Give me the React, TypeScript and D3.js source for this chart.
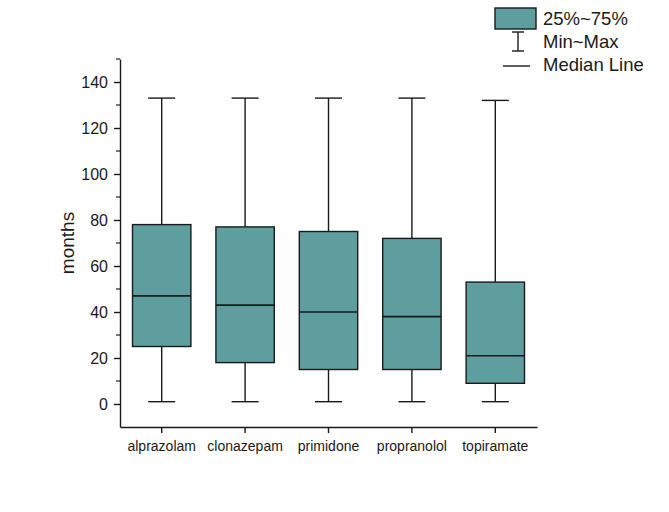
import { useEffect, useRef } from "react"
import * as d3 from "d3"

const drugs = ["alprazolam", "clonazepam", "primidone", "propranolol", "topiramate"]
const minVals = [1, 1, 1, 1, 1]
const q1Vals = [25, 18, 15, 15, 9]
const medianVals = [47, 43, 40, 38, 21]
const q3Vals = [78, 77, 75, 72, 53]
const maxVals = [133, 133, 133, 133, 132]
const yTicks = [0, 20, 40, 60, 80, 100, 120, 140]
const legendLabels = ["25%~75%", "Min~Max", "Median Line"]

export default function App() {
  const svgRef = useRef<SVGSVGElement>(null)

  useEffect(() => {
    document.body.style.margin = "0"
    if (!svgRef.current) return
    const svg = d3.select(svgRef.current)
    svg.selectAll("*").remove()

    const font = "'Liberation Sans', Arial, sans-serif"
    const fill = "#5f9e9e"
    const ink = "#1a1a1a"

    const x = d3.scaleBand<string>().domain(drugs).range([120, 537]).paddingInner(0.3).paddingOuter(0.15)
    const y = d3.scaleLinear().domain([-10, 150]).range([427, 59])

    const g = svg.append("g").style("font-family", font)

    // y axis
    const yAxis = g
      .append("g")
      .attr("transform", "translate(120,0)")
      .call(d3.axisLeft(y).tickValues(yTicks).tickSize(6).tickSizeOuter(0).tickPadding(6))
    yAxis.select(".domain").attr("stroke", ink).attr("stroke-width", 1.4)
    yAxis.selectAll(".tick line").attr("stroke", ink).attr("stroke-width", 1.4)
    yAxis.selectAll(".tick text").style("font-size", "16px").attr("fill", ink).style("font-family", font)

    // minor ticks
    g.append("g")
      .selectAll("line")
      .data(d3.range(-10, 151, 20).filter((v) => v > -10))
      .enter()
      .append("line")
      .attr("x1", 120)
      .attr("x2", 116)
      .attr("y1", (d) => y(d))
      .attr("y2", (d) => y(d))
      .attr("stroke", ink)
      .attr("stroke-width", 1.2)

    // x axis
    const xAxis = g
      .append("g")
      .attr("transform", "translate(0,427)")
      .call(d3.axisBottom(x).tickSize(6).tickSizeOuter(0).tickPadding(8))
    xAxis.select(".domain").attr("stroke", ink).attr("stroke-width", 1.4)
    xAxis.selectAll(".tick line").attr("stroke", ink).attr("stroke-width", 1.4)
    xAxis.selectAll(".tick text").style("font-size", "14px").attr("fill", ink).style("font-family", font)

    // y label
    g.append("text")
      .attr("transform", `translate(74,${(y(150) + y(-10)) / 2}) rotate(-90)`)
      .attr("text-anchor", "middle")
      .style("font-size", "19px")
      .attr("fill", ink)
      .text("months")

    // boxes
    const bw = x.bandwidth()
    const capW = 27
    drugs.forEach((d, i) => {
      const cx = (x(d) as number) + bw / 2
      const bg = g.append("g")
      bg.append("line")
        .attr("x1", cx).attr("x2", cx)
        .attr("y1", y(maxVals[i])).attr("y2", y(q3Vals[i]))
        .attr("stroke", ink).attr("stroke-width", 1.4)
      bg.append("line")
        .attr("x1", cx).attr("x2", cx)
        .attr("y1", y(q1Vals[i])).attr("y2", y(minVals[i]))
        .attr("stroke", ink).attr("stroke-width", 1.4)
      ;[maxVals[i], minVals[i]].forEach((v) => {
        bg.append("line")
          .attr("x1", cx - capW / 2).attr("x2", cx + capW / 2)
          .attr("y1", y(v)).attr("y2", y(v))
          .attr("stroke", ink).attr("stroke-width", 1.4)
      })
      bg.append("rect")
        .attr("x", x(d) as number)
        .attr("width", bw)
        .attr("y", y(q3Vals[i]))
        .attr("height", y(q1Vals[i]) - y(q3Vals[i]))
        .attr("fill", fill)
        .attr("stroke", ink)
        .attr("stroke-width", 1.4)
      bg.append("line")
        .attr("x1", x(d) as number).attr("x2", (x(d) as number) + bw)
        .attr("y1", y(medianVals[i])).attr("y2", y(medianVals[i]))
        .attr("stroke", ink).attr("stroke-width", 1.6)
    })

    // legend
    const lg = g.append("g")
    lg.append("rect").attr("x", 495).attr("y", 8).attr("width", 41).attr("height", 21)
      .attr("fill", fill).attr("stroke", ink).attr("stroke-width", 1.4)
    lg.append("line").attr("x1", 518).attr("x2", 518).attr("y1", 32).attr("y2", 51).attr("stroke", ink).attr("stroke-width", 1.4)
    lg.append("line").attr("x1", 512).attr("x2", 524).attr("y1", 32).attr("y2", 32).attr("stroke", ink).attr("stroke-width", 1.4)
    lg.append("line").attr("x1", 512).attr("x2", 524).attr("y1", 51).attr("y2", 51).attr("stroke", ink).attr("stroke-width", 1.4)
    lg.append("line").attr("x1", 503).attr("x2", 530).attr("y1", 66).attr("y2", 66).attr("stroke", ink).attr("stroke-width", 1.4)
    legendLabels.forEach((t, i) => {
      lg.append("text").attr("x", 543).attr("y", 25 + i * 23)
        .style("font-size", "18.5px").attr("fill", ink).text(t)
    })
  }, [])

  return <svg ref={svgRef} width={669} height={512} style={{ display: "block", background: "#fff" }}></svg>
}
